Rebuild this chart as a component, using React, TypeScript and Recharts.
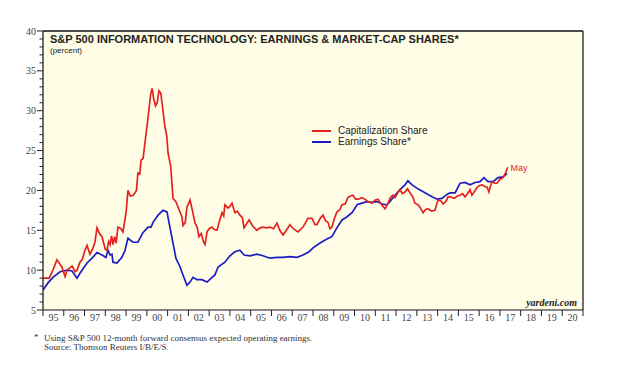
import { LineChart, Line, XAxis, YAxis, CartesianGrid, ReferenceLine, ReferenceDot } from 'recharts';

// market-cap share, decimal year -> percent
const capYears = [
  1995.0, 1995.3, 1995.48, 1995.67, 1995.8, 1995.91, 1996.06, 1996.16, 1996.4, 1996.55, 1996.64, 1996.78, 1996.9,
  1997.02, 1997.12, 1997.26, 1997.41, 1997.5, 1997.6, 1997.72, 1997.84, 1998.0, 1998.08, 1998.16, 1998.23, 1998.3,
  1998.37, 1998.45, 1998.52, 1998.61, 1998.75, 1998.85, 1999.0, 1999.09, 1999.2, 1999.35, 1999.5, 1999.57, 1999.66,
  1999.72, 1999.82, 1999.91, 2000.06, 2000.18, 2000.25, 2000.33, 2000.42, 2000.5, 2000.58, 2000.67, 2000.73, 2000.87,
  2000.96, 2001.02, 2001.15, 2001.26, 2001.4, 2001.55, 2001.69, 2001.74, 2001.85, 2001.93, 2002.08, 2002.2, 2002.32,
  2002.42, 2002.51, 2002.62, 2002.72, 2002.8, 2002.9, 2003.0, 2003.14, 2003.25, 2003.38, 2003.5, 2003.62, 2003.7,
  2003.76, 2003.91, 2004.0, 2004.1, 2004.24, 2004.35, 2004.48, 2004.6, 2004.68, 2004.8, 2004.92, 2005.1, 2005.3,
  2005.45, 2005.59, 2005.75, 2005.93, 2006.1, 2006.27, 2006.4, 2006.56, 2006.72, 2006.89, 2007.05, 2007.28, 2007.52,
  2007.65, 2007.76, 2007.95, 2008.1, 2008.19, 2008.35, 2008.48, 2008.6, 2008.72, 2008.82, 2008.91, 2009.05, 2009.15,
  2009.3, 2009.4, 2009.55, 2009.68, 2009.8, 2009.93, 2010.05, 2010.17, 2010.35, 2010.5, 2010.65, 2010.84, 2011.0,
  2011.13, 2011.3, 2011.47, 2011.61, 2011.75, 2011.85, 2011.95, 2012.1, 2012.19, 2012.3, 2012.43, 2012.55, 2012.67,
  2012.8, 2012.91, 2013.05, 2013.15, 2013.3, 2013.42, 2013.54, 2013.7, 2013.87, 2014.02, 2014.15, 2014.26, 2014.4,
  2014.5, 2014.6, 2014.8, 2014.95, 2015.08, 2015.2, 2015.32, 2015.45, 2015.56, 2015.65, 2015.78, 2015.9, 2016.02,
  2016.14, 2016.28, 2016.38, 2016.47, 2016.55, 2016.62, 2016.75, 2016.86, 2017.0, 2017.15, 2017.29, 2017.37,
];
const capShare = [
  9.0, 9.0, 10.0, 11.3, 10.8, 10.4, 9.2, 10.0, 10.5, 9.8, 10.0, 11.0, 11.4,
  12.5, 13.1, 12.0, 12.8, 13.5, 15.3, 14.6, 14.2, 12.6, 12.5, 13.6, 13.2, 14.3,
  13.2, 14.2, 13.4, 15.4, 15.2, 14.8, 17.2, 20.0, 19.3, 19.4, 20.0, 22.2, 22.1,
  23.8, 24.0, 26.0, 29.2, 32.0, 32.8, 31.5, 30.6, 31.0, 32.5, 32.2, 31.0, 28.0,
  26.8, 24.7, 23.0, 19.0, 18.6, 17.6, 16.7, 15.6, 16.0, 17.9, 18.8, 17.4, 15.9,
  15.4, 14.2, 14.6, 13.6, 13.2, 14.8, 15.2, 15.4, 15.1, 15.0, 16.2, 17.2, 16.8,
  18.2, 17.8, 18.0, 18.4, 17.2, 17.4, 16.9, 16.6, 15.3, 15.8, 16.3, 15.5, 15.0,
  15.3, 15.4, 15.3, 15.4, 15.2, 15.9, 15.0, 14.4, 15.0, 15.7, 15.2, 14.8, 15.4,
  16.0, 16.5, 16.5, 15.7, 15.7, 16.5, 16.9, 16.2, 16.0, 15.2, 15.4, 16.6, 17.3,
  17.6, 18.2, 18.3, 19.1, 19.3, 19.4, 18.9, 18.9, 19.1, 18.9, 18.6, 18.4, 18.8,
  18.9, 18.2, 17.7, 18.4, 19.2, 19.4, 19.1, 19.8, 20.1, 19.6, 19.8, 20.2, 19.7,
  19.2, 18.4, 18.2, 17.9, 17.2, 17.6, 17.7, 17.4, 17.5, 18.8, 18.7, 18.3, 18.6,
  19.2, 19.2, 19.0, 19.3, 19.4, 19.6, 19.2, 19.6, 20.1, 19.4, 19.9, 20.4, 20.6,
  20.7, 20.5, 20.4, 19.8, 20.6, 21.1, 20.9, 20.9, 21.4, 21.6, 22.3, 22.9,
];

// forward earnings share
const epsYears = [
  1995.0, 1995.24, 1995.48, 1995.82, 1996.16, 1996.4, 1996.64, 1996.78, 1997.12, 1997.36, 1997.6, 1997.84, 1998.03,
  1998.13, 1998.23, 1998.32, 1998.37, 1998.56, 1998.8, 1998.95, 1999.09, 1999.33, 1999.57, 1999.81, 2000.06, 2000.2,
  2000.3, 2000.54, 2000.78, 2000.97, 2001.11, 2001.26, 2001.4, 2001.6, 2001.74, 2001.93, 2002.08, 2002.22, 2002.41,
  2002.65, 2002.9, 2003.14, 2003.28, 2003.43, 2003.76, 2004.0, 2004.24, 2004.48, 2004.68, 2004.97, 2005.3, 2005.59,
  2005.93, 2006.27, 2006.56, 2006.89, 2007.23, 2007.52, 2007.81, 2008.0, 2008.34, 2008.67, 2008.91, 2009.15, 2009.4,
  2009.64, 2009.88, 2010.12, 2010.36, 2010.6, 2010.84, 2011.08, 2011.32, 2011.56, 2011.7, 2011.95, 2012.19, 2012.43,
  2012.57, 2012.77, 2013.05, 2013.39, 2013.73, 2013.97, 2014.21, 2014.45, 2014.6, 2014.84, 2015.08, 2015.32, 2015.56,
  2015.8, 2016.04, 2016.23, 2016.43, 2016.67, 2016.91, 2017.15, 2017.34,
];
const epsShare = [
  7.5, 8.4, 9.1, 9.8, 10.0, 9.9, 9.0, 9.6, 10.9, 11.5, 12.2, 11.9, 11.6,
  12.5, 11.9, 12.0, 11.0, 10.9, 11.6, 12.5, 14.0, 13.5, 13.5, 14.7, 15.4, 15.4,
  16.0, 16.9, 17.5, 17.3, 15.4, 13.4, 11.5, 10.4, 9.4, 8.1, 8.5, 9.1, 8.8,
  8.8, 8.5, 9.1, 9.4, 10.4, 11.0, 11.8, 12.3, 12.5, 11.9, 11.8, 12.0, 11.8,
  11.5, 11.6, 11.6, 11.7, 11.6, 11.9, 12.3, 12.8, 13.4, 13.9, 14.2, 15.3, 16.3,
  16.7, 17.2, 18.2, 18.4, 18.6, 18.5, 18.6, 18.3, 18.2, 18.6, 19.4, 20.1, 20.7,
  21.2, 20.7, 20.2, 19.7, 19.2, 18.9, 19.0, 19.5, 19.7, 19.7, 20.9, 21.0, 20.7,
  21.0, 21.1, 21.6, 21.1, 21.1, 21.6, 21.7, 22.1,
];

const yTicks = Array.from({ length: 36 }, (_, i) => 5 + i);
const yearTicks: number[] = [];
for (let yr = 1995; yr <= 2021; yr++) {
  yearTicks.push(yr);
  if (yr < 2021) yearTicks.push(yr + 0.5);
}

const capData = capYears.map((t, i) => ({ t, v: capShare[i] }));
const epsData = epsYears.map((t, i) => ({ t, v: epsShare[i] }));

const RED = '#e3231f';
const BLUE = '#1c1cc4';
const serif = '"Liberation Serif", "Times New Roman", serif';
const sans = '"Liberation Sans", Arial, sans-serif';

const LeftTick = (props: any) => {
  const { x, y, payload } = props;
  const major = payload.value % 5 === 0;
  return (
    <g>
      <line x1={x - (major ? 6 : 3.5)} x2={x} y1={y} y2={y} stroke="#222" strokeWidth={1} />
      {major && (
        <text x={x - 7} y={y} dy={3.5} textAnchor="end" fontSize={10} fill="#444" fontFamily={serif}>
          {payload.value}
        </text>
      )}
    </g>
  );
};

const RightTick = (props: any) => {
  const { x, y, payload } = props;
  const major = payload.value % 5 === 0;
  return (
    <g>
      <line x1={x} x2={x + (major ? 6 : 3.5)} y1={y} y2={y} stroke="#222" strokeWidth={1} />
      {major && (
        <text x={x + 7} y={y} dy={3.5} textAnchor="start" fontSize={10} fill="#444" fontFamily={serif}>
          {payload.value}
        </text>
      )}
    </g>
  );
};

const YearTick = (props: any) => {
  const { x, y, payload } = props;
  const v = payload.value;
  if (Number.isInteger(v)) {
    return <line x1={x} x2={x} y1={y} y2={y + 6} stroke="#222" strokeWidth={1} />;
  }
  const label = String(Math.floor(v) % 100).padStart(2, '0');
  return (
    <text x={x} y={y + 11} textAnchor="middle" fontSize={10} fill="#444" fontFamily={serif}>
      {label}
    </text>
  );
};

export default function App() {
  return (
    <div style={{ position: 'absolute', left: 0, top: 0, width: 633, height: 366, background: '#fff' }}>
      <LineChart width={633} height={366} margin={{ top: 31, right: 20, bottom: 36, left: 13 }}>
        <CartesianGrid yAxisId="left" horizontal={false} vertical={false} fill="#fffde6" />
        <XAxis
          dataKey="t"
          type="number"
          domain={[1995, 2021]}
          ticks={yearTicks}
          interval={0}
          height={20}
          tickSize={0}
          tickMargin={0}
          tickLine={false}
          axisLine={{ stroke: '#111', strokeWidth: 1.2 }}
          tick={<YearTick />}
          allowDataOverflow
        />
        <YAxis
          yAxisId="left"
          orientation="left"
          width={30}
          domain={[5, 40]}
          ticks={yTicks}
          interval={0}
          tickSize={0}
          tickMargin={0}
          tickLine={false}
          axisLine={{ stroke: '#111', strokeWidth: 1.2 }}
          tick={<LeftTick />}
        />
        <YAxis
          yAxisId="right"
          orientation="right"
          width={30}
          domain={[5, 40]}
          ticks={yTicks}
          interval={0}
          tickSize={0}
          tickMargin={0}
          tickLine={false}
          axisLine={{ stroke: '#111', strokeWidth: 1.2 }}
          tick={<RightTick />}
        />
        <ReferenceLine yAxisId="left" y={40} stroke="#111" strokeWidth={1.5} />
        <Line
          yAxisId="left"
          data={epsData}
          dataKey="v"
          type="linear"
          stroke={BLUE}
          strokeWidth={1.7}
          dot={false}
          isAnimationActive={false}
        />
        <Line
          yAxisId="left"
          data={capData}
          dataKey="v"
          type="linear"
          stroke={RED}
          strokeWidth={1.7}
          dot={false}
          isAnimationActive={false}
        />
        <ReferenceDot
          yAxisId="left"
          x={capYears[capYears.length - 1]}
          y={capShare[capShare.length - 1]}
          r={0}
          label={{ value: 'May', position: 'right', fill: RED, fontSize: 9, fontFamily: sans, offset: 3 }}
        />
      </LineChart>

      <div style={{ position: 'absolute', left: 50, top: 34, fontFamily: sans, fontWeight: 'bold', fontSize: 11, color: '#222', lineHeight: 1, whiteSpace: 'nowrap' }}>
        S&amp;P 500 INFORMATION TECHNOLOGY: EARNINGS &amp; MARKET-CAP SHARES*
      </div>
      <div style={{ position: 'absolute', left: 50, top: 47, fontFamily: sans, fontSize: 8, color: '#222', lineHeight: 1 }}>
        (percent)
      </div>

      <div style={{ position: 'absolute', left: 312, top: 125, fontFamily: sans, fontSize: 10, color: '#222', lineHeight: '11px' }}>
        <div style={{ display: 'flex', alignItems: 'center' }}>
          <span style={{ display: 'inline-block', width: 19, height: 2, background: RED, marginRight: 7 }} />
          Capitalization Share
        </div>
        <div style={{ display: 'flex', alignItems: 'center' }}>
          <span style={{ display: 'inline-block', width: 19, height: 2, background: BLUE, marginRight: 7 }} />
          Earnings Share*
        </div>
      </div>

      <div style={{ position: 'absolute', right: 56, top: 298, fontFamily: serif, fontWeight: 'bold', fontStyle: 'italic', fontSize: 10, color: '#222', lineHeight: 1 }}>
        yardeni.com
      </div>

      <div style={{ position: 'absolute', left: 34, top: 333, fontFamily: serif, fontSize: 9, color: '#333', lineHeight: '9px' }}>
        *
      </div>
      <div style={{ position: 'absolute', left: 44, top: 334, fontFamily: serif, fontSize: 9, color: '#333', lineHeight: '9px' }}>
        <div>Using S&amp;P 500 12-month forward consensus expected operating earnings.</div>
        <div>Source: Thomson Reuters I/B/E/S.</div>
      </div>
    </div>
  );
}
